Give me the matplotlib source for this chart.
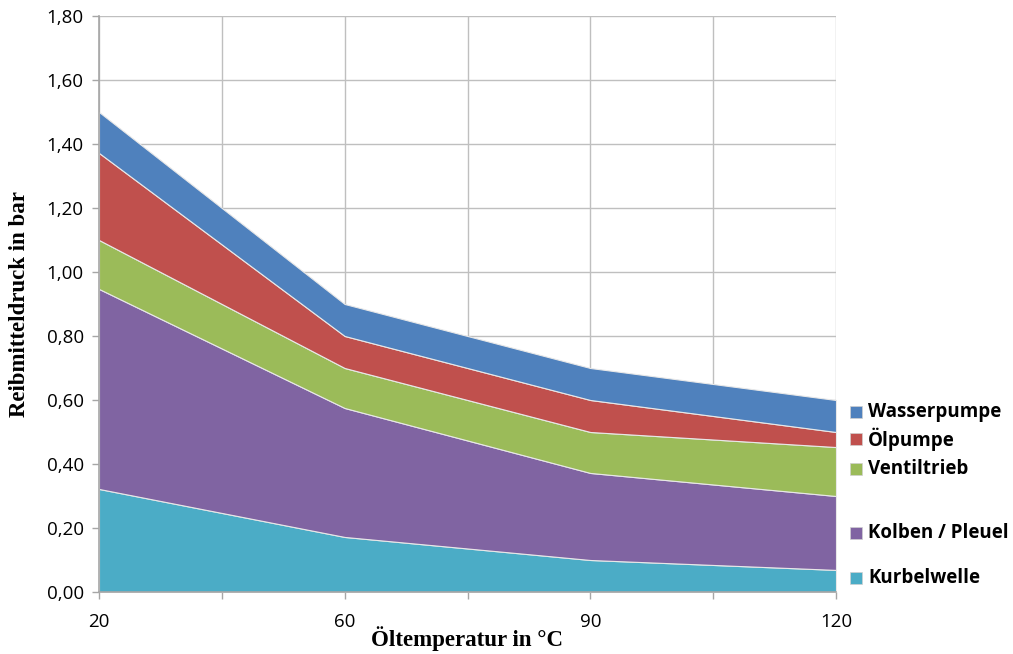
import matplotlib
matplotlib.use("Agg")
from matplotlib import pyplot as plt
from matplotlib.ticker import FuncFormatter, MultipleLocator
import numpy as np

# data (individual band heights, bar)
temperatures = ["20", "60", "90", "120"]
kurbelwelle = [0.322, 0.172, 0.10, 0.069]
kolben_pleuel = [0.625, 0.403, 0.272, 0.231]
ventiltrieb = [0.153, 0.125, 0.128, 0.153]
oelpumpe = [0.272, 0.10, 0.10, 0.047]
wasserpumpe = [0.128, 0.10, 0.10, 0.10]

series_names = ["Kurbelwelle", "Kolben / Pleuel", "Ventiltrieb", "Ölpumpe", "Wasserpumpe"]
colors = ["#4BACC6", "#8064A2", "#9BBB59", "#C0504D", "#4F81BD"]
legend_y = [578, 533, 469, 439, 412]  # pixel rows of the legend entries

W, H = 1013, 654
fig = plt.figure(figsize=(W / 100, H / 100), dpi=100)
ax = fig.add_axes([99 / W, 1 - 592 / H, (836 - 99) / W, (592 - 16) / H])

x = np.arange(len(temperatures))
stack = [kurbelwelle, kolben_pleuel, ventiltrieb, oelpumpe, wasserpumpe]
ax.stackplot(x, stack, colors=colors, edgecolor="#E8E8E8", linewidth=0.8, zorder=2)

ax.set_xlim(0, len(temperatures) - 1)
ax.set_ylim(0, 1.8)
ax.yaxis.set_major_locator(MultipleLocator(0.2))
ax.yaxis.set_major_formatter(FuncFormatter(lambda v, p: f"{v:.2f}".replace(".", ",")))
ax.set_xticks(x)
ax.set_xticklabels(temperatures)
ax.set_xticks(x[:-1] + 0.5, minor=True)

ax.grid(True, which="both", color="#BFBFBF", linewidth=1, zorder=0)
ax.set_axisbelow(True)
for side in ["top", "right"]:
    ax.spines[side].set_visible(False)
for side in ["left", "bottom"]:
    ax.spines[side].set_color("#A6A6A6")
    ax.spines[side].set_linewidth(1.2)
ax.tick_params(axis="both", which="both", color="#A6A6A6", length=5, width=1)
ax.tick_params(axis="x", which="major", pad=10)
ax.tick_params(axis="y", which="major", pad=6)
for lbl in ax.get_xticklabels() + ax.get_yticklabels():
    lbl.set_fontfamily("Open Sans")
    lbl.set_fontsize(13.5)

ax.set_ylabel("Reibmitteldruck in bar", fontfamily="Liberation Serif", fontweight="bold",
              fontsize=16.5)
ax.yaxis.set_label_coords(-(99 - 30) / (836 - 99), 0.5)
ax.set_xlabel("Öltemperatur in °C", fontfamily="Liberation Serif", fontweight="bold",
              fontsize=16.5)
ax.xaxis.set_label_coords((467 - 99) / (836 - 99), -(626 - 592) / (592 - 16))

# legend entries placed next to their bands
for name, c, py in zip(series_names, colors, legend_y):
    fy = 1 - py / H
    fig.patches.append(plt.Rectangle((850 / W, fy - 6 / H), 12 / W, 12 / H,
                                     transform=fig.transFigure, facecolor=c,
                                     edgecolor="#D0D0D0", linewidth=0.5))
    fig.text(868 / W, fy, name, fontfamily="Open Sans", fontweight="bold",
             fontsize=13.5, va="center", ha="left")

fig.savefig("out.png", dpi=100)
